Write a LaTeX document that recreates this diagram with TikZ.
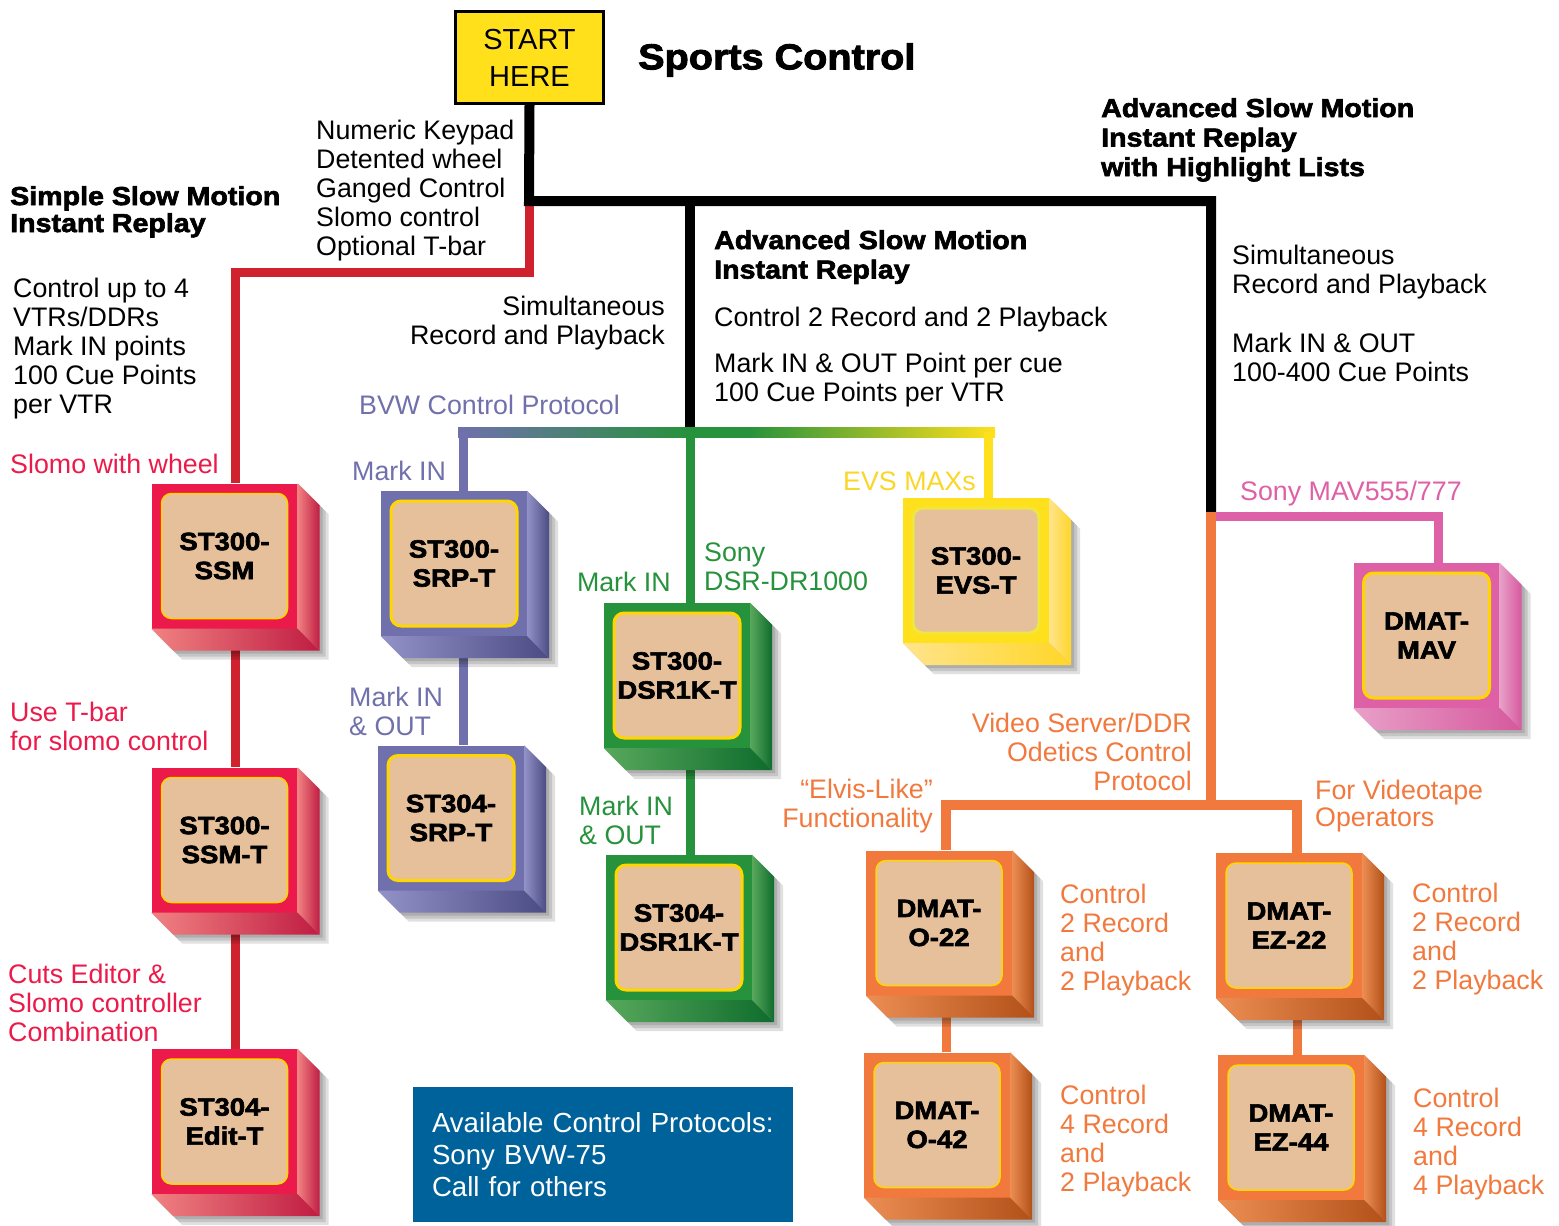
\documentclass[tikz,border=0pt]{standalone}
\usepackage{fontspec}
\setmainfont{Liberation Sans}
\newfontfamily\heavyfont{Liberation Sans Bold}[FakeBold=2.5, FakeStretch=1.1]
\usetikzlibrary{calc}
\pgfdeclarelayer{background}
\pgfdeclarelayer{shadow}
\pgfsetlayers{background,shadow,main}
% box colours: F front, L light side, D dark side
\definecolor{redF}{RGB}{236,26,74}
\definecolor{redL}{RGB}{240,130,130}
\definecolor{redD}{RGB}{192,28,66}
\definecolor{redLine}{RGB}{208,34,46}
\definecolor{bvwF}{RGB}{112,112,172}
\definecolor{bvwL}{RGB}{146,146,200}
\definecolor{bvwD}{RGB}{76,76,132}
\definecolor{dsrF}{RGB}{38,146,60}
\definecolor{dsrL}{RGB}{88,168,92}
\definecolor{dsrD}{RGB}{14,108,44}
\definecolor{evsF}{RGB}{255,224,28}
\definecolor{evsL}{RGB}{255,228,140}
\definecolor{evsD}{RGB}{255,214,40}
\definecolor{evsText}{RGB}{250,214,40}
\definecolor{mavF}{RGB}{222,96,166}
\definecolor{mavL}{RGB}{232,160,200}
\definecolor{mavD}{RGB}{214,88,158}
\definecolor{odtF}{RGB}{241,121,62}
\definecolor{odtL}{RGB}{236,142,84}
\definecolor{odtD}{RGB}{178,80,24}
\definecolor{boxtan}{RGB}{230,192,155}
\definecolor{rimyellow}{RGB}{255,214,0}
\definecolor{startyellow}{RGB}{255,224,27}
\definecolor{infoblue}{RGB}{0,98,155}
% protocol bar: purple -> green -> yellow
\pgfdeclarehorizontalshading{protobar}{100bp}{color(0bp)=(bvwF); color(25bp)=(bvwF);
	color(46.6bp)=(dsrF); color(52bp)=(dsrF); color(75bp)=(evsF); color(100bp)=(evsF)}
% 3d controller box: name, centre, colour family, label
\newcommand{\devbox}[4]{%
	\node[front, fill=#3F] (#1) at (#2) {};
	\begin{pgfonlayer}{shadow}
		\foreach \o in {3,6,9}
		\fill[black, opacity=.12] ($(#1.north west)+(\o,\o)$) -- ($(#1.north east)+(\o,\o)$)
		-- ($(#1.north east)+(22+\o,22+\o)$) -- ($(#1.south east)+(22+\o,22+\o)$)
		-- ($(#1.south west)+(22+\o,22+\o)$) -- ($(#1.south west)+(\o,\o)$) -- cycle;
	\end{pgfonlayer}
	\shade[left color=#3L, right color=#3D] (#1.north east) -- ++(22,22)
	-- ($(#1.south east)+(22,22)$) -- (#1.south east) -- cycle;
	\shade[left color=#3L, right color=#3D] (#1.south west) -- (#1.south east)
	-- ++(22,22) -- ($(#1.south west)+(22,22)$) -- cycle;
	\node[inner, #3rim] (#1-label) at (#1.center) {#4};
}

\begin{document}
\begin{tikzpicture}[x=1pt, y=-1pt,
	front/.style={minimum width=146, minimum height=145, inner sep=0},
	inner/.style={minimum width=126, minimum height=125, inner sep=0, rounded corners=10,
		fill=boxtan, draw=rimyellow, line width=2.5, align=center,
		font=\heavyfont\fontsize{25}{29}\selectfont},
	redrim/.style={line width=1.5},
	odtrim/.style={line width=1.5},
	bvwrim/.style={line width=3},
	dsrrim/.style={line width=3},
	mavrim/.style={line width=3},
	evsrim/.style={line width=3, draw={rgb,255:red,240;green,230;blue,60}},
	note/.style={inner sep=0, anchor=north west, align=left, font=\fontsize{26.8}{29}\selectfont},
	noter/.style={note, anchor=north east, align=right},
	headline/.style={note, font=\heavyfont\fontsize{26}{29.5}\selectfont},
	link/.style={line width=9, line cap=butt, line join=miter},
	trunk/.style={link, line width=10, black}]
	\useasboundingbox (0,0) rectangle (1559,1226);
	%start and title
	\node[fill=startyellow, draw=black, line width=3, minimum width=148, minimum height=92,
		align=center, font=\fontsize{29}{37}\selectfont] (start) at (529.5,57.5) {START\\HERE};
	\node[inner sep=0, anchor=west, font=\heavyfont\fontsize{36}{40}\selectfont] (title) at (638,60) {Sports Control};
	%boxes
	\devbox{ssm}{224.5,556}{red}{ST300-\\SSM}
	\devbox{ssmt}{224.5,840}{red}{ST300-\\SSM-T}
	\devbox{editt}{224.5,1121.5}{red}{ST304-\\Edit-T}
	\devbox{srp}{454,563.5}{bvw}{ST300-\\SRP-T}
	\devbox{srpfour}{451,818}{bvw}{ST304-\\SRP-T}
	\devbox{dsr}{677,675.5}{dsr}{ST300-\\DSR1K-T}
	\devbox{dsrfour}{679,927.5}{dsr}{ST304-\\DSR1K-T}
	\devbox{evs}{976,570.5}{evs}{ST300-\\EVS-T}
	\devbox{mav}{1426.5,635.5}{mav}{DMAT-\\MAV}
	\devbox{otwo}{939,923}{odt}{DMAT-\\O-22}
	\devbox{ofour}{937,1125}{odt}{DMAT-\\O-42}
	\devbox{eztwo}{1289,925.5}{odt}{DMAT-\\EZ-22}
	\devbox{ezfour}{1291,1127.5}{odt}{DMAT-\\EZ-44}
	%junctions
	\coordinate (jtop) at (529,201);
	\coordinate (jadv) at (690,201);
	\coordinate (jhl) at (1211,201);
	\coordinate (jodt) at (1211,512);
	\coordinate (rA) at (529,272);
	\coordinate (rB) at (235,272);
	\coordinate (barL) at (463,432);
	\coordinate (barM) at (690,432);
	\coordinate (barR) at (988,432);
	\coordinate (pk) at (1438,516);
	\coordinate (jo) at (1211,805);
	\coordinate (oL) at (946,805);
	\coordinate (oR) at (1297,805);
	%connectors
	\begin{pgfonlayer}{background}
		\draw[link, redLine] (jtop) -- (rA) -- (rB) -- (ssm.north -| rB);
		\draw[link, redLine] (ssm.south -| rB) -- (ssmt.north -| rB);
		\draw[link, redLine] (ssmt.south -| rB) -- (editt.north -| rB);
		\draw[trunk] (start.south) -- (jtop) -- (jhl) -- (jodt);
		\draw[trunk] (jadv) -- (barM);
		\shade[shading=protobar] (458,427) rectangle (995,437);
		\draw[link, bvwF] (barL) -- (barL |- srp.north);
		\draw[link, bvwF] (srp.south -| barL) -- (srpfour.north -| barL);
		\draw[link, dsrF] (barM) -- (barM |- dsr.north);
		\draw[link, dsrF] (dsr.south -| barM) -- (dsrfour.north -| barM);
		\draw[link, evsF] (barR) -- (barR |- evs.north);
		\draw[link, mavF] (jodt |- pk) -- (pk) -- (pk |- mav.north);
		\draw[link, odtF, line width=10] (jodt) -- (jo);
		\draw[link, odtF, line width=10] (oL |- otwo.north) -- (oL) -- (oR) -- (oR |- eztwo.north);
		\draw[link, odtF] (otwo.south -| oL) -- (ofour.north -| oL);
		\draw[link, odtF] (eztwo.south -| oR) -- (ezfour.north -| oR);
	\end{pgfonlayer}
	%labels
	\node[note] (keypad) at (316,120) {Numeric Keypad\\Detented wheel\\Ganged Control\\Slomo control\\Optional T-bar};
	\node[headline, font=\heavyfont\fontsize{26}{27}\selectfont] (simplehead) at (10,186) {Simple Slow Motion\\Instant Replay};
	\node[note] (simplenote) at (13,278) {Control up to 4\\VTRs/DDRs\\Mark IN points\\100 Cue Points\\per VTR};
	\node[note, text=redF] (wheel) at (10,454) {Slomo with wheel};
	\node[note, text=redF] (tbar) at (10,702) {Use T-bar\\for slomo control};
	\node[note, text=redF] (cuts) at (8,964) {Cuts Editor \&\\Slomo controller\\Combination};
	\node[noter] (simulleft) at (665,296) {Simultaneous\\Record and Playback};
	\node[note, text=bvwF] (bvw) at (359,395) {BVW Control Protocol};
	\node[note, text=bvwF] (srpin) at (352,461) {Mark IN};
	\node[note, text=bvwF] (srpout) at (349,687) {Mark IN\\\& OUT};
	\node[noter, text=dsrF] (dsrin) at (671,572) {Mark IN};
	\node[note, text=dsrF] (sony) at (704,543) {Sony\\DSR-DR1000};
	\node[note, text=dsrF] (dsrout) at (579,796) {Mark IN\\\& OUT};
	\node[note, text=evsText] (evsmax) at (843,472) {EVS MAXs};
	\node[headline] (advhead) at (714,230) {Advanced Slow Motion\\Instant Replay};
	\node[note] (advctl) at (714,307) {Control 2 Record and 2 Playback};
	\node[note] (advcue) at (714,353) {Mark IN \& OUT Point per cue\\100 Cue Points per VTR};
	\node[headline] (hlhead) at (1101,98) {Advanced Slow Motion\\Instant Replay\\with Highlight Lists};
	\node[note] (simulright) at (1232,245) {Simultaneous\\Record and Playback};
	\node[note] (hlcue) at (1232,333) {Mark IN \& OUT\\100-400 Cue Points};
	\node[note, text=mavF] (mavname) at (1240,481) {Sony MAV555/777};
	\node[noter, text=odtF] (odetics) at (1192,713) {Video Server/DDR\\Odetics Control\\Protocol};
	\node[noter, text=odtF] (elvis) at (933,779) {“Elvis-Like”\\Functionality};
	\node[note, text=odtF, font=\fontsize{26.8}{27}\selectfont] (tape) at (1315,780) {For Videotape\\Operators};
	\node[note, text=odtF] (otwonote) at (1060,884) {Control\\2 Record\\and\\2 Playback};
	\node[note, text=odtF] (eztwonote) at (1412,883) {Control\\2 Record\\and\\2 Playback};
	\node[note, text=odtF] (ofournote) at (1060,1085) {Control\\4 Record\\and\\2 Playback};
	\node[note, text=odtF] (ezfournote) at (1413,1088) {Control\\4 Record\\and\\4 Playback};
	%protocols
	\node[fill=infoblue, minimum width=380, minimum height=135, text width=342, align=left,
		text=white, font=\fontsize{27.6}{32}\selectfont] (protocols) at (603,1154.5)
		{Available Control Protocols:\\Sony BVW-75\\Call for others};
\end{tikzpicture}
\end{document}
